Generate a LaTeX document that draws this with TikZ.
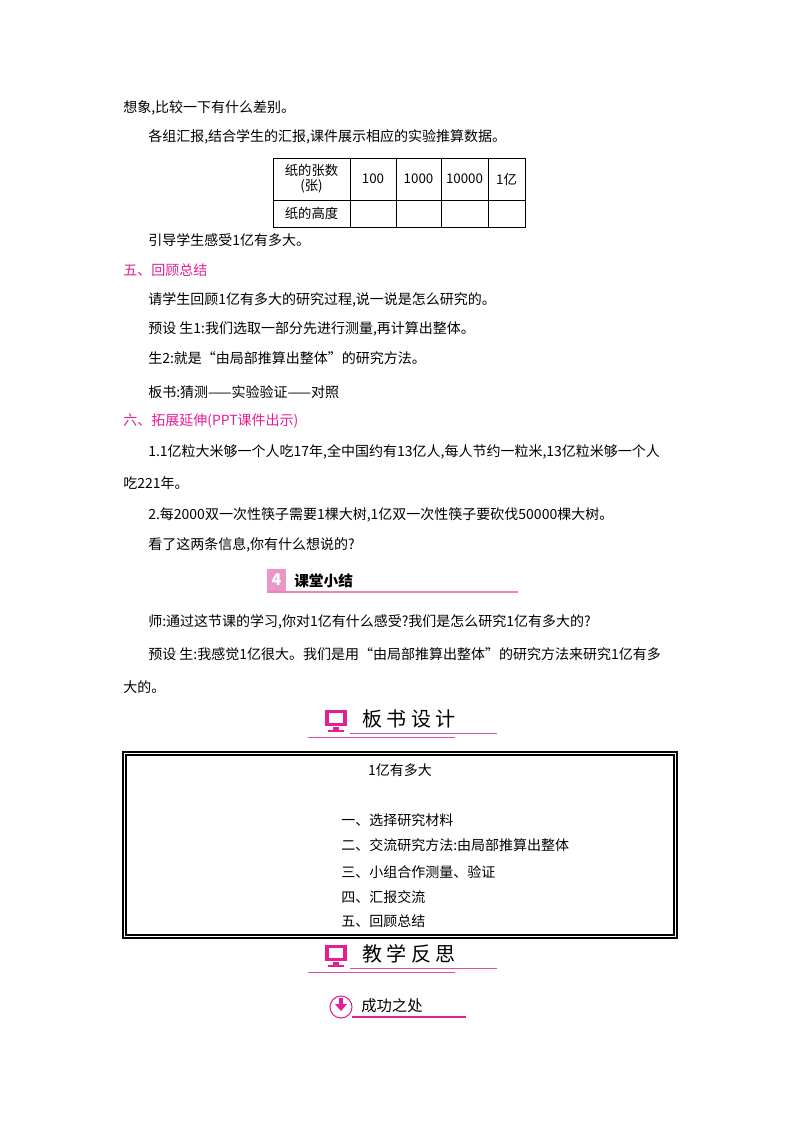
\documentclass[tikz,border=0pt]{standalone}
\usepackage{fontspec}
\setmainfont{Noto Sans CJK SC}
\definecolor{pk}{RGB}{230,30,150}
\definecolor{pl}{RGB}{220,80,160}
\begin{document}
\begin{tikzpicture}[x=0.75pt,y=-0.75pt,
 t/.style={anchor=west,inner sep=0,font=\fontsize{10.5pt}{12pt}\selectfont},
 h/.style={t,text=pk},
 c/.style={inner sep=0,font=\fontsize{10pt}{11pt}\selectfont,align=center},
 hd/.style={anchor=west,inner sep=0,font=\fontsize{15pt}{16pt}\selectfont}]
\useasboundingbox (0,0) rectangle (800,1132);
\node[t] (l1) at (123,108) {想象,比较一下有什么差别。};
\node[t] (l2) at (148,137) {各组汇报,结合学生的汇报,课件展示相应的实验推算数据。};
% table
\draw[line width=0.6pt] (273,158) rectangle (525,227) (273,200) -- (525,200);
\foreach \x in {350,396,441,488} \draw[line width=0.6pt] (\x,158) -- (\x,227);
\node[c] (c1) at (311.5,179) {纸的张数\\(张)};
\node[c] (c2) at (373,179) {100};
\node[c] (c3) at (418.5,179) {1000};
\node[c] (c4) at (464.5,179) {10000};
\node[c] (c5) at (506.5,179) {1亿};
\node[c] (c6) at (311.5,213) {纸的高度};
\node[t] (l3) at (148,240) {引导学生感受1亿有多大。};
\node[h] (h5) at (123,270) {五、回顾总结};
\node[t] (l4) at (148,300) {请学生回顾1亿有多大的研究过程,说一说是怎么研究的。};
\node[t] (l5) at (148,329) {预设\ 生1:我们选取一部分先进行测量,再计算出整体。};
\node[t] (l6) at (148,358) {生2:就是“由局部推算出整体”的研究方法。};
\node[t] (l7) at (148,392) {板书:猜测——实验验证——对照};
\node[h] (h6) at (123,421) {六、拓展延伸(PPT课件出示)};
\node[t] (l8) at (148,452) {1.1亿粒大米够一个人吃17年,全中国约有13亿人,每人节约一粒米,13亿粒米够一个人};
\node[t] (l9) at (123,483) {吃221年。};
\node[t] (l10) at (148,515) {2.每2000双一次性筷子需要1棵大树,1亿双一次性筷子要砍伐50000棵大树。};
\node[t] (l11) at (148,545) {看了这两条信息,你有什么想说的?};
% heading 4
\fill[pl!60] (267,569) rectangle (286,591);
\node[text=white,font=\bfseries\itshape\large,inner sep=0] (n4) at (276.5,580) {4};
\node[anchor=west,inner sep=0,font=\fontsize{11pt}{12pt}\selectfont\bfseries] (kt) at (294,581) {课堂小结};
\draw[pl!70,line width=0.8pt] (267,592) -- (518,592);
\node[t] (l12) at (148,622) {师:通过这节课的学习,你对1亿有什么感受?我们是怎么研究1亿有多大的?};
\node[t] (l13) at (148,654) {预设\ 生:我感觉1亿很大。我们是用“由局部推算出整体”的研究方法来研究1亿有多};
\node[t] (l14) at (123,687) {大的。};
% heading board
\fill[pk] (325,710) rectangle (347,726); \fill[white] (329,713) rectangle (343,723);
\fill[pk] (333,727) rectangle (339,730); \fill[pk] (328,730) rectangle (344,732);
\node[hd] (bs) at (362,719) {板\ 书\ 设\ 计};
\draw[pl,line width=0.7pt] (350,733) -- (497,733);
\draw[pl,line width=0.7pt] (308,737) -- (455,737);
% box
\draw[line width=0.8pt] (123,752) rectangle (677,938);
\draw[line width=0.8pt] (126,755) rectangle (674,935);
\node[t,anchor=center] (b0) at (400,770) {1亿有多大};
\node[t] (b1) at (341,820) {一、选择研究材料};
\node[t] (b2) at (341,845) {二、交流研究方法:由局部推算出整体};
\node[t] (b3) at (341,872) {三、小组合作测量、验证};
\node[t] (b4) at (341,897) {四、汇报交流};
\node[t] (b5) at (341,921) {五、回顾总结};
% heading reflection
\fill[pk] (325,945) rectangle (347,961); \fill[white] (329,948) rectangle (343,958);
\fill[pk] (333,962) rectangle (339,965); \fill[pk] (328,965) rectangle (344,967);
\node[hd] (jx) at (362,954) {教\ 学\ 反\ 思};
\draw[pl,line width=0.7pt] (350,968) -- (497,968);
\draw[pl,line width=0.7pt] (308,972) -- (455,972);
% success
\draw[pk,line width=0.8pt] (341,1007) circle (11);
\fill[pk] (339,998) rectangle (343,1005); \fill[pk] (335,1004) -- (347,1004) -- (341,1011) -- cycle;
\node[anchor=west,inner sep=0,font=\fontsize{11.5pt}{12pt}\selectfont] (cg) at (361,1006) {成功之处};
\draw[pk,line width=0.8pt] (352,1017) -- (466,1017);
\end{tikzpicture}
\end{document}
